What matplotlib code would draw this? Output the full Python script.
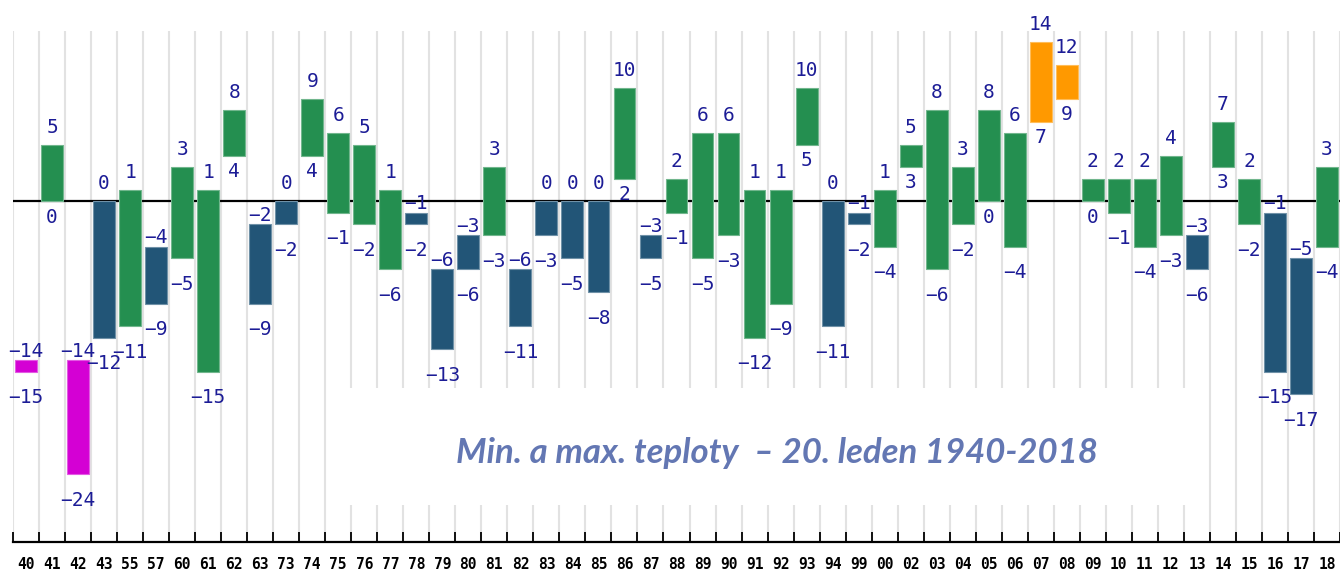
import matplotlib
matplotlib.use("Agg")
import matplotlib.pyplot as plt
from matplotlib.patches import Rectangle
import numpy as np

# ---- data -------------------------------------------------------------
years = ["40", "41", "42", "43", "55", "57", "60", "61", "62", "63", "73", "74",
         "75", "76", "77", "78", "79", "80", "81", "82", "83", "84", "85", "86",
         "87", "88", "89", "90", "91", "92", "93", "94", "99", "00", "02", "03",
         "04", "05", "06", "07", "08", "09", "10", "11", "12", "13", "14", "15",
         "16", "17", "18"]
t_max = [-14, 5, -14, 0, 1, -4, 3, 1, 8, -2, 0, 9,
         6, 5, 1, -1, -6, -3, 3, -6, 0, 0, 0, 10,
         -3, 2, 6, 6, 1, 1, 10, 0, -1, 1, 5, 8,
         3, 8, 6, 14, 12, 2, 2, 2, 4, -3, 7, 2,
         -1, -5, 3]
t_min = [-15, 0, -24, -12, -11, -9, -5, -15, 4, -9, -2, 4,
         -1, -2, -6, -2, -13, -6, -3, -11, -3, -5, -8, 2,
         -5, -1, -5, -3, -12, -9, 5, -11, -2, -4, 3, -6,
         -2, 0, -4, 7, 9, 0, -1, -4, -3, -6, 3, -2,
         -15, -17, -4]
title = "Min. a max. teploty  – 20. leden 1940-2018"

# ---- styling ----------------------------------------------------------
C_GREEN = "#248f50"
C_BLUE = "#225577"
C_MAG = "#d400d4"
C_ORANGE = "#ff9900"
C_LABEL = "#1c1c96"
C_TITLE = "#6377b3"

def lighter(c, f=0.35):
    r, g, b = matplotlib.colors.to_rgb(c)
    return (r + (1 - r) * f, g + (1 - g) * f, b + (1 - b) * f)

tmax = np.array(t_max)
tmin = np.array(t_min)
n = len(years)
x = np.arange(n)

colors = []
for hi, lo in zip(tmax, tmin):
    if hi == tmax.min() or lo == tmin.min():
        colors.append(C_MAG)
    elif hi == tmax.max() or lo == tmin.max():
        colors.append(C_ORANGE)
    elif hi <= 0:
        colors.append(C_BLUE)
    else:
        colors.append(C_GREEN)

W, H = 1340, 569
fig = plt.figure(figsize=(W / 100, H / 100), dpi=100)
ax_l, ax_r, ax_t, ax_b = 13, 1340, 31, 542
ax = fig.add_axes([ax_l / W, (H - ax_b) / H, (ax_r - ax_l) / W, (ax_b - ax_t) / H])

cat_px = 26.12
ax.set_xlim(-0.5, -0.5 + (ax_r - ax_l) / cat_px)
ax.set_ylim(-30, 15)

# vertical grid lines at category boundaries
bounds = np.arange(n + 1) - 0.5
ax.vlines(bounds, -30, 15, colors="#e2e2e2", lw=1.5, zorder=0.2)

# white box behind the title
ax.add_patch(Rectangle((0.2427, 0.0724), 0.8983 - 0.2427, 0.3014 - 0.0724,
                       transform=ax.transAxes, facecolor="white",
                       edgecolor="none", zorder=0.3))

ax.axhline(0, color="black", lw=1.6, zorder=1)

ax.bar(x, tmax - tmin, bottom=tmin, width=0.84, color=colors,
       edgecolor=[lighter(c) for c in colors], linewidth=0.8, zorder=2)

px = 0.72  # points per pixel
digit_h = 14.2
for xi, hi, lo in zip(x, tmax, tmin):
    # top label
    gap = 12 if hi >= 0 else 3.5
    ax.annotate(str(hi).replace("-", "\u2212"), xy=(xi, hi),
                xytext=(0, gap * px), textcoords="offset points",
                ha="center", va="baseline", fontsize=14,
                family="DejaVu Sans Mono", color=C_LABEL,
                zorder=3, annotation_clip=False)
    # bottom label
    gap = 7 if lo >= 0 else 17.5
    ax.annotate(str(lo).replace("-", "\u2212"), xy=(xi, lo),
                xytext=(0, -(gap + digit_h) * px), textcoords="offset points",
                ha="center", va="baseline", fontsize=14,
                family="DejaVu Sans Mono", color=C_LABEL,
                zorder=3, annotation_clip=False)

# axes / ticks
for s in ["left", "right", "top"]:
    ax.spines[s].set_visible(False)
ax.spines["bottom"].set_linewidth(1.6)
ax.spines["bottom"].set_color("black")
ax.yaxis.set_visible(False)
ax.set_xticks(bounds)
ax.set_xticklabels([])
ax.tick_params(axis="x", which="major", direction="in", length=7.2,
               width=1.3, color="black")
ax.set_xticks(x, minor=True)
ax.set_xticklabels(years, minor=True, fontsize=10.5, fontweight="bold",
                   family="DejaVu Sans Mono", color="black")
ax.tick_params(axis="x", which="minor", length=0, pad=10.5)

fig.text(776.5 / W, (H - 463) / H, title, ha="center", va="baseline",
         fontsize=25, fontweight="bold", fontstyle="italic",
         family="Lato", color=C_TITLE, zorder=5)

fig.savefig("out.png", dpi=100)
